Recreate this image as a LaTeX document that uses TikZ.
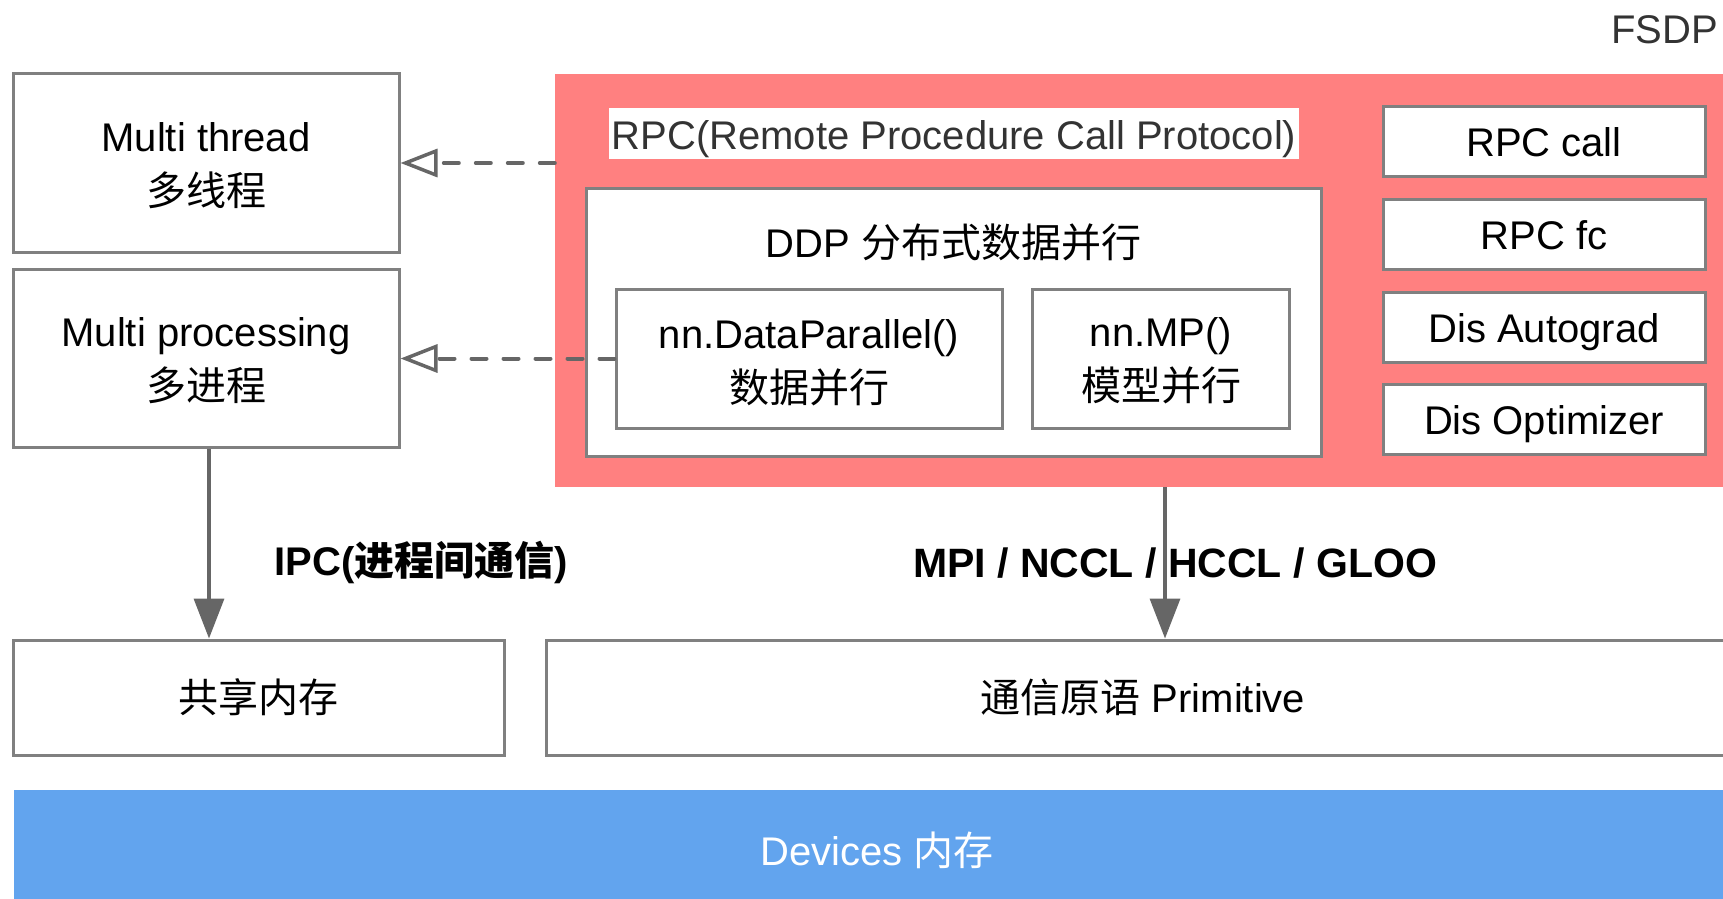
\documentclass[tikz,border=0pt]{standalone}
\usepackage{fontspec}
\setmainfont{Liberation Sans}
\newfontfamily\cjk{Noto Sans CJK SC}
\usetikzlibrary{arrows.meta}
\definecolor{rpcred}{HTML}{FF8080}
\definecolor{devblue}{HTML}{62A4EE}
\definecolor{boxgray}{HTML}{808080}
\definecolor{arrowgray}{HTML}{666666}
\definecolor{textgray}{HTML}{333333}

\begin{document}
\begin{tikzpicture}[x=1pt, y=-1pt, font=\fontsize{40}{54}\selectfont]
\tikzstyle{box}=[draw=boxgray,line width=3pt,fill=white,align=center,inner sep=0pt]
\tikzstyle{sidebox}=[box,minimum width=322pt,minimum height=70pt,text height=30pt,text depth=0pt]
\tikzstyle{dasharrow}=[draw=arrowgray,line width=4pt,line cap=round,dash pattern=on 15pt off 17pt,
  -{Triangle[open,length=37pt,width=28pt,line width=3.5pt]}]
\tikzstyle{solidarrow}=[draw=arrowgray,line width=3.5pt,
  -{Triangle[length=40pt,width=30pt]}]
\tikzstyle{biglabel}=[font=\fontsize{41}{52}\selectfont\bfseries,inner sep=0pt]
  \useasboundingbox (0,0) rectangle (1723,898);
  \clip (0,0) rectangle (1723,898);
  \node[box,minimum width=386pt,minimum height=179pt] (multithread) at (206,163)
    {\rule{0pt}{34pt}Multi thread\\{\cjk 多线程}};
  \node[box,minimum width=386pt,minimum height=178pt] (multiproc) at (206,358.5)
    {\rule{0pt}{34pt}Multi processing\\{\cjk 多进程}};
  \node[fill=rpcred,minimum width=1178pt,minimum height=413pt,inner sep=0pt] (rpc) at (1144,280.5) {};
  \node[fill=white,text=textgray,inner sep=0pt,minimum width=690pt,minimum height=51pt,
    text height=36pt,text depth=4pt] (rpclabel) at (954,133) {RPC(Remote Procedure Call Protocol)};
  \node[box,minimum width=735pt,minimum height=268pt] (ddp) at (953.5,322) {};
  \node[inner sep=0pt] (ddptitle) at (953.5,242) {DDP {\cjk 分布式数据并行}};
  \node[box,minimum width=386pt,minimum height=139pt] (dp) at (809,358.5)
    {\rule{0pt}{38pt}nn.DataParallel()\\{\cjk 数据并行}};
  \node[box,minimum width=257pt,minimum height=139pt] (mp) at (1161,358.5)
    {\rule{0pt}{34pt}nn.MP()\\{\cjk 模型并行}};
  \foreach \place/\name/\txt in {{(1544,141)/rpccall/RPC call},
                                 {(1544,234)/rpcfc/RPC fc},
                                 {(1544,327)/autograd/Dis Autograd},
                                 {(1544,419.5)/optimizer/Dis Optimizer}}
    \node[sidebox] (\name) at \place {\txt};
  \node[box,minimum width=491pt,minimum height=115pt] (shm) at (258.5,697.5) {{\cjk 共享内存}};
  \node[box,minimum width=1194pt,minimum height=115pt] (prim) at (1143,697.5)
    {{\cjk 通信原语} Primitive};
  \node[fill=devblue,text=white,inner sep=0pt,minimum width=1726pt,minimum height=120pt] (devices)
    at (877,850) {Devices {\cjk 内存}};
  \node[text=textgray,anchor=east,inner sep=0pt] (fsdp) at (1718,30) {FSDP};
  \node[biglabel,font=\fontsize{40}{52}\selectfont\bfseries] (ipc) at (421.5,562) {IPC({\cjk 进程间通信})};
  \node[biglabel] (mpi) at (1175,563) {MPI / NCCL / HCCL / GLOO};
  \coordinate (ipcx) at (209,0);
  \coordinate (busx) at (1165,0);
  \draw[dasharrow] (rpc.west |- multithread.east) -- (multithread.east);
  \draw[dasharrow] (dp.west) -- (multiproc.east);
  \draw[solidarrow] (ipcx |- multiproc.south) -- (ipcx |- shm.north);
  \draw[solidarrow] (busx |- rpc.south) -- (busx |- prim.north);
\end{tikzpicture}
\end{document}
